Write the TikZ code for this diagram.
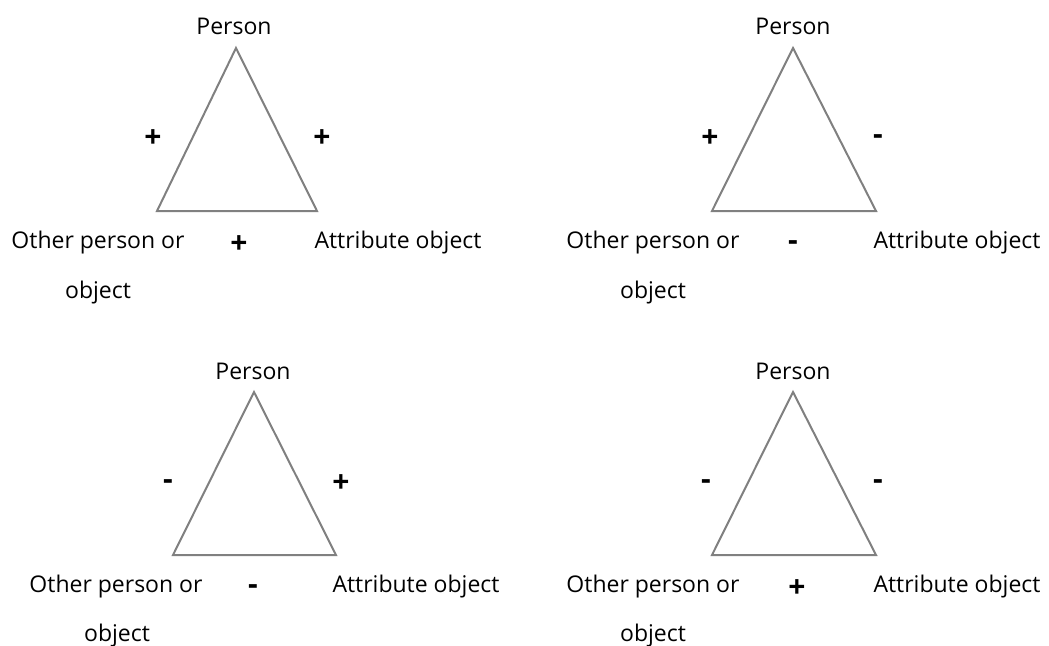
\documentclass[tikz,border=0pt]{standalone}
\usepackage{fontspec}
\setmainfont{Open Sans}
\begin{document}
\begin{tikzpicture}[x=1pt,y=-1pt,
  lbl/.style={inner sep=0pt,anchor=base,font=\fontsize{23}{26}\selectfont},
  sgn/.style={inner sep=0pt,anchor=base,font=\bfseries\fontsize{30}{32}\selectfont},
  pl/.style={sgn,yshift=-10.5pt},
  mi/.style={sgn,yshift=-7.2pt},
  tri/.style={draw=black!50,line width=2pt,line join=miter}]
\useasboundingbox (0,0) rectangle (1049,645);
% ---- panel 1
\coordinate (p1) at (236,48);
\coordinate (o1) at (157,211);
\coordinate (a1) at (317,211);
\draw[tri] (p1) -- (o1) -- (a1) -- cycle;
\node[lbl] (P1) at (234,34) {Person};
\node[lbl] (O1) at (98,248) {Other person or};
\node[lbl] (Ob1) at (98,298) {object};
\node[lbl] (A1) at (398,248) {Attribute object};
\node[pl] (s1l) at (153,137) {+};
\node[pl] (s1r) at (322,137) {+};
\node[pl] (s1b) at (239,243) {+};
% ---- panel 2
\coordinate (p2) at (793,48);
\coordinate (o2) at (712,211);
\coordinate (a2) at (876,211);
\draw[tri] (p2) -- (o2) -- (a2) -- cycle;
\node[lbl] (P2) at (793,34) {Person};
\node[lbl] (O2) at (653,248) {Other person or};
\node[lbl] (Ob2) at (653,298) {object};
\node[lbl] (A2) at (957,248) {Attribute object};
\node[pl] (s2l) at (710,137) {+};
\node[mi] (s2r) at (878,137) {-};
\node[mi] (s2b) at (793,243) {-};
% ---- panel 3
\coordinate (p3) at (254,392);
\coordinate (o3) at (173,555);
\coordinate (a3) at (336,555);
\draw[tri] (p3) -- (o3) -- (a3) -- cycle;
\node[lbl] (P3) at (253,379) {Person};
\node[lbl] (O3) at (116,592) {Other person or};
\node[lbl] (Ob3) at (117,641) {object};
\node[lbl] (A3) at (416,592) {Attribute object};
\node[mi] (s3l) at (168,482) {-};
\node[pl] (s3r) at (341,482) {+};
\node[mi] (s3b) at (253,587) {-};
% ---- panel 4
\coordinate (p4) at (793,392);
\coordinate (o4) at (712,555);
\coordinate (a4) at (876,555);
\draw[tri] (p4) -- (o4) -- (a4) -- cycle;
\node[lbl] (P4) at (793,379) {Person};
\node[lbl] (O4) at (653,592) {Other person or};
\node[lbl] (Ob4) at (653,641) {object};
\node[lbl] (A4) at (957,592) {Attribute object};
\node[mi] (s4l) at (706,482) {-};
\node[mi] (s4r) at (878,482) {-};
\node[pl] (s4b) at (797,587) {+};
\end{tikzpicture}
\end{document}
